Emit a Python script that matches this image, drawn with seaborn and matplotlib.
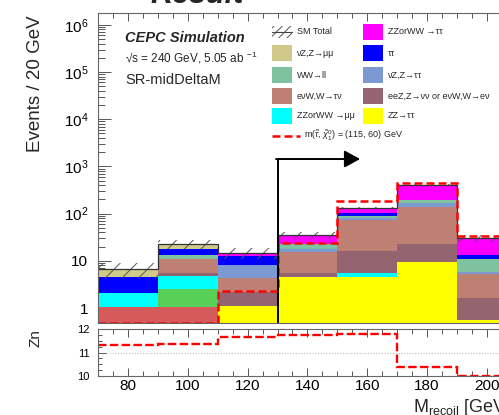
import numpy as np
import pandas as pd
import matplotlib
matplotlib.use("Agg")
import matplotlib.pyplot as plt
import seaborn as sns
from matplotlib.patches import Rectangle
from matplotlib.lines import Line2D
from matplotlib.ticker import FixedLocator, LogLocator, MultipleLocator, NullFormatter

sns.set_style("ticks")
plt.rcParams["font.family"] = ["Liberation Sans", "DejaVu Sans"]
plt.rcParams["mathtext.fontset"] = "custom"
plt.rcParams["mathtext.rm"] = "Liberation Sans"
plt.rcParams["mathtext.it"] = "Liberation Sans:italic"
plt.rcParams["mathtext.bf"] = "Liberation Sans:bold"
plt.rcParams["hatch.linewidth"] = 0.7
plt.rcParams["hatch.color"] = "#555555"

# ---------------- data ----------------
bin_edges = [70, 90, 110, 130, 150, 170, 190, 210]
bin_centers = [80, 100, 120, 140, 160, 180, 200]

# stacked background processes, listed bottom -> top
other_red   = [1.07, 1.07, 0, 0, 0, 0, 0]
other_green = [0, 1.43, 0, 0, 0, 0, 0]
zz_tautau   = [0, 0, 1.1, 4.47, 4.47, 9.5, 0.56]
zzww_mumu   = [1.0, 2.26, 0, 0, 1.1, 0, 0]
eez_nunu    = [0, 0.84, 1.1, 0.93, 10.5, 13.1, 1.07]
evw_taunu   = [0, 5.2, 2.06, 10.2, 56.9, 117.4, 3.62]
vz_tautau   = [0, 0, 3.84, 2.2, 9.0, 25.0, 0.55]
ww_ll       = [0, 2.5, 0, 5.2, 8.0, 29.0, 5.1]
tautau      = [2.4, 4.2, 4.5, 0, 11.0, 0, 2.4]
zzww_tautau = [0, 0, 2.2, 12.0, 32.0, 211.0, 17.2]
vz_mumu     = [2.1, 5.1, 0, 0, 0, 0, 0]

sm_err = [2.3, 4.9, 3.9, 6.0, 8.0, 15.0, 5.0]
signal = [0.49, 0.49, 2.3, 23.5, 185, 437, 33]
zn     = [11.30, 11.38, 11.64, 11.76, 11.80, 10.40, 10.02]

proc_names = ["other1", "other2", "ZZ→ττ", "ZZorWW →μμ", "eeZ,Z→νν or eνW,W→eν",
              "eνW,W→τν", "νZ,Z→ττ", "WW→ll", "ττ", "ZZorWW →ττ", "νZ,Z→μμ"]
proc_values = [other_red, other_green, zz_tautau, zzww_mumu, eez_nunu, evw_taunu,
               vz_tautau, ww_ll, tautau, zzww_tautau, vz_mumu]
proc_colors = ["#d65a5a", "#57d057", "#ffff00", "#00ffff", "#946570", "#bf8074",
               "#7b9ad2", "#7fc2a0", "#0000ff", "#ff00ff", "#d0c98a"]

rows = []
for name, vals in zip(proc_names, proc_values):
    for c, v in zip(bin_centers, vals):
        rows.append({"mrecoil": c, "events": v, "process": name})
df = pd.DataFrame(rows)
palette = dict(zip(proc_names, proc_colors))
total = np.sum(np.array(proc_values, dtype=float), axis=0)
err = np.array(sm_err)

# ---------------- figure ----------------
W, H = 499, 415
fig = plt.figure(figsize=(W / 100, H / 100), dpi=100)

def fx(x):
    return x / W

def fy(y):
    return 1 - y / H

px_per_gev = 2.992
xmax = 70 + (509 - 98) / px_per_gev

ax = fig.add_axes([fx(98), fy(323), (509 - 98) / W, (323 - 13) / H])
rax = fig.add_axes([fx(98), fy(376), (509 - 98) / W, (376 - 329) / H])

ax.set_yscale("log")
sns.histplot(data=df, x="mrecoil", weights="events", hue="process",
             hue_order=proc_names[::-1], palette=palette, multiple="stack",
             bins=bin_edges, element="bars", linewidth=0, alpha=1,
             legend=False, ax=ax)

# SM total uncertainty band and outline
ax.stairs(total + err, bin_edges, baseline=total - err, fill=True,
          facecolor="none", edgecolor="#555555", hatch="//", linewidth=0)
ax.stairs(total, bin_edges, baseline=None, color="#333333", linewidth=0.9)

# signal
ax.stairs(signal, bin_edges, baseline=None, color="red", linewidth=1.8,
          linestyle=(0, (3.2, 1.6)))

# cut arrow
ax.plot([130, 130], [0.482, 1435], color="black", lw=1.4, solid_capstyle="butt")
ax.annotate("", xy=(157.6, 1435), xytext=(129.5, 1435),
            arrowprops=dict(arrowstyle="-|>,head_length=0.95,head_width=0.52",
                            color="black", lw=1.4, mutation_scale=10,
                            shrinkA=0, shrinkB=0))

ax.set_xlim(70, xmax)
ax.set_ylim(0.482, 1.78e6)
ax.set_xlabel("")
ax.set_ylabel("")

yt = [1, 10, 100, 1e3, 1e4, 1e5, 1e6]
ax.yaxis.set_major_locator(FixedLocator(yt))
ax.set_yticklabels(["1", "10", "10$^{2}$", "10$^{3}$", "10$^{4}$", "10$^{5}$", "10$^{6}$"])
ax.yaxis.set_minor_locator(LogLocator(base=10, subs=np.arange(2, 10)))
ax.yaxis.set_minor_formatter(NullFormatter())
ax.xaxis.set_major_locator(MultipleLocator(20))
ax.xaxis.set_minor_locator(MultipleLocator(5))
ax.tick_params(axis="both", which="both", direction="in", top=True, right=False,
               colors="#555555", labelcolor="black", width=0.7)
ax.tick_params(axis="y", which="major", length=9.5, labelsize=11, pad=7)
ax.tick_params(axis="y", which="minor", length=5)
ax.tick_params(axis="x", which="major", length=6, labelbottom=False)
ax.tick_params(axis="x", which="minor", length=3.5)
for s in ["left", "top", "bottom"]:
    ax.spines[s].set_color("#666666")
    ax.spines[s].set_linewidth(0.8)
ax.spines["right"].set_visible(False)

# ratio panel
rax.stairs(zn, bin_edges, baseline=None, color="red", linewidth=1.7,
           linestyle=(0, (3.6, 1.4)))
rax.axhline(11, color="#bbbbbb", lw=0.8, ls=(0, (1, 1.5)), zorder=0)
rax.set_xlim(70, xmax)
rax.set_ylim(10, 12)
rax.yaxis.set_major_locator(FixedLocator([10, 11, 12]))
rax.yaxis.set_minor_locator(MultipleLocator(0.25))
rax.xaxis.set_major_locator(MultipleLocator(20))
rax.xaxis.set_minor_locator(MultipleLocator(5))
rax.tick_params(axis="both", which="both", direction="in", top=True, right=False,
                colors="#555555", labelcolor="black", width=0.7)
rax.tick_params(axis="y", which="major", length=6, labelsize=8, pad=6)
rax.tick_params(axis="y", which="minor", length=3)
rax.tick_params(axis="x", which="major", length=6, labelsize=11, pad=2)
rax.tick_params(axis="x", which="minor", length=3.5)
for s in ["left", "top", "bottom"]:
    rax.spines[s].set_color("#666666")
    rax.spines[s].set_linewidth(0.8)
rax.spines["right"].set_visible(False)

# axis titles
fig.text(fx(36), fy(84), "Events / 20 GeV", rotation=90, ha="center", va="center", fontsize=13.5)
fig.text(fx(35), fy(338), "Zn", rotation=90, ha="center", va="center", fontsize=11)
fig.text(fx(413), fy(412), r"M$_{\mathrm{recoil}}$ [GeV]", ha="left", va="baseline", fontsize=13)

# title (cut at top)
fig.text(fx(150), fy(3), "Result", ha="left", va="baseline", fontsize=22,
         style="italic", fontweight="bold")

# labels
fig.text(fx(125), fy(42), "CEPC Simulation", ha="left", va="baseline", fontsize=10.5,
         style="italic", fontweight="bold")
fig.text(fx(125), fy(63), r"√s = 240 GeV, 5.05 ab $^{-1}$", ha="left", va="baseline", fontsize=8.5)
fig.text(fx(125), fy(84), "SR-midDeltaM", ha="left", va="baseline", fontsize=10.5)

# legend (manual)
col_box = [272, 363]
col_txt = [297, 388]
row_y = [32, 53, 75, 96, 116]
box_w, box_h = 20, 16
entries = [
    (0, 0, None, "SM Total"),
    (1, 0, palette["ZZorWW →ττ"], "ZZorWW →ττ"),
    (0, 1, palette["νZ,Z→μμ"], "νZ,Z→μμ"),
    (1, 1, palette["ττ"], "ττ"),
    (0, 2, palette["WW→ll"], "WW→ll"),
    (1, 2, palette["νZ,Z→ττ"], "νZ,Z→ττ"),
    (0, 3, palette["eνW,W→τν"], "eνW,W→τν"),
    (1, 3, palette["eeZ,Z→νν or eνW,W→eν"], "eeZ,Z→νν or eνW,W→eν"),
    (0, 4, palette["ZZorWW →μμ"], "ZZorWW →μμ"),
    (1, 4, palette["ZZ→ττ"], "ZZ→ττ"),
]
for c, r, col, lab in entries:
    x0 = col_box[c]
    yc = row_y[r]
    if col is None:
        fig.add_artist(Rectangle((fx(x0), fy(yc + 6)), box_w / W, 12 / H,
                                 transform=fig.transFigure, facecolor="none",
                                 edgecolor="#555555", hatch="////", linewidth=0))
        fig.add_artist(Line2D([fx(x0), fx(x0 + box_w)], [fy(yc), fy(yc)],
                              transform=fig.transFigure, color="#444444", lw=0.8))
    else:
        fig.add_artist(Rectangle((fx(x0), fy(yc + box_h / 2)), box_w / W, box_h / H,
                                 transform=fig.transFigure, facecolor=col,
                                 edgecolor="none", linewidth=0))
    fig.text(fx(col_txt[c]), fy(yc), lab, ha="left", va="center", fontsize=6.5)

fig.add_artist(Line2D([fx(272), fx(300)], [fy(136), fy(136)], transform=fig.transFigure,
                      color="red", lw=1.8, ls=(0, (3.2, 1.6))))
fig.text(fx(304), fy(136), r"m($\tilde{\tau}$, $\tilde{\chi}_1^0$) = (115, 60) GeV",
         ha="left", va="center", fontsize=6.5)

fig.savefig("out.png", dpi=100)
